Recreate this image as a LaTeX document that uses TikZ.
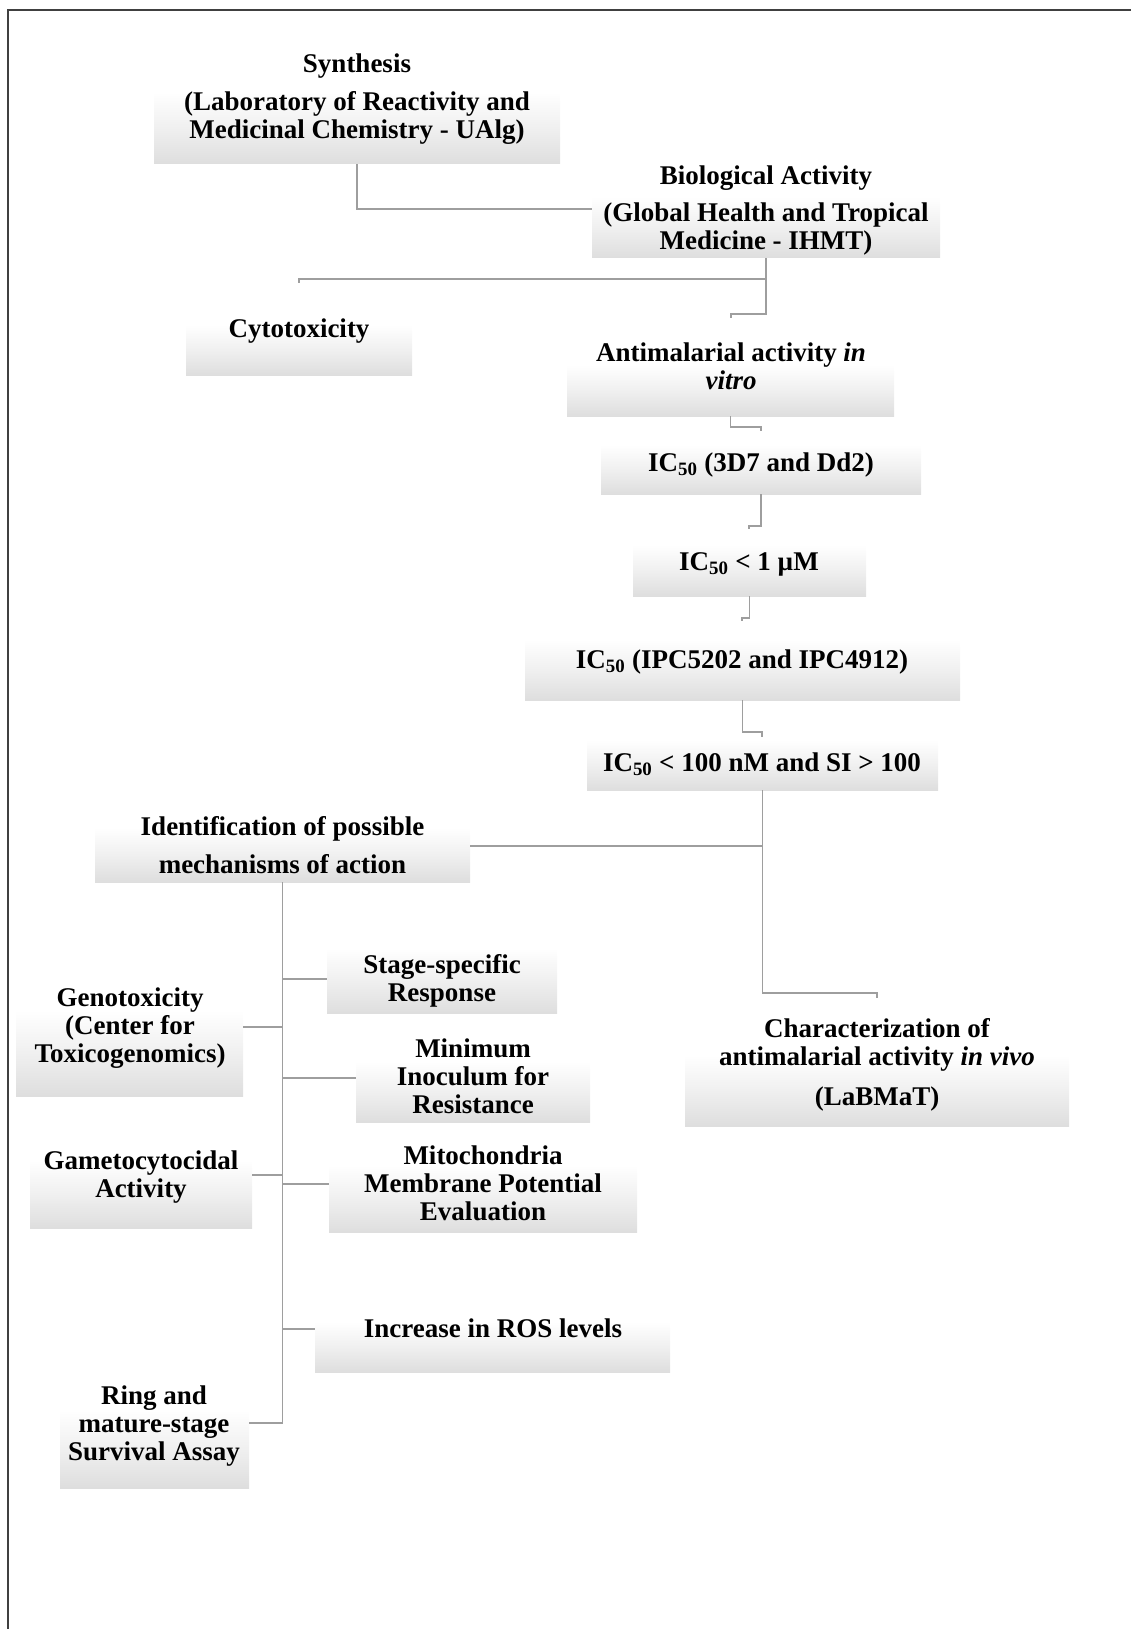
\documentclass[tikz,border=0pt]{standalone}
\usepackage{fontspec}
\setmainfont{Liberation Serif}
\begin{document}
\begin{tikzpicture}[x=1pt,y=-1pt,
  tbox/.style={rectangle, draw=none, inner sep=0pt, top color=white, bottom color=black!13, middle color=black!6},
  txt/.style={align=center, inner sep=0pt, font=\fontsize{27}{28}\selectfont\bfseries},
  conn/.style={draw=black!38, line width=1.5pt},
  frameline/.style={draw=black!75, line width=2.2pt}]
\useasboundingbox (0,0) rectangle (1131,1629);
\draw[frameline] (8,1640) -- (8,10) -- (1140,10);
% boxes
\node[tbox, minimum width=406pt, minimum height=72pt] (synbox) at (357,128) {};
\node[tbox, minimum width=348pt, minimum height=61pt] (biobox) at (766,227.5) {};
\node[tbox, minimum width=226pt, minimum height=50pt] (cytobox) at (299,350) {};
\node[tbox, minimum width=327pt, minimum height=51pt] (amtbox) at (730.5,390.5) {};
\node[tbox, minimum width=320pt, minimum height=49pt] (icabox) at (761,469.5) {};
\node[tbox, minimum width=233pt, minimum height=51pt] (icbbox) at (749.5,570.5) {};
\node[tbox, minimum width=435pt, minimum height=60pt] (iccbox) at (742.5,670) {};
\node[tbox, minimum width=351pt, minimum height=50pt] (icdbox) at (762.5,765) {};
\node[tbox, minimum width=375pt, minimum height=54pt] (idbox) at (282.5,855) {};
\node[tbox, minimum width=230pt, minimum height=65pt] (stagebox) at (442,980.5) {};
\node[tbox, minimum width=227pt, minimum height=86pt] (genobox) at (129.5,1053) {};
\node[tbox, minimum width=234pt, minimum height=60pt] (minbox) at (473,1092) {};
\node[tbox, minimum width=222pt, minimum height=68pt] (gambox) at (141,1194) {};
\node[tbox, minimum width=308pt, minimum height=67pt] (mitobox) at (483,1198.5) {};
\node[tbox, minimum width=355pt, minimum height=50pt] (rosbox) at (492.5,1347) {};
\node[tbox, minimum width=189pt, minimum height=78pt] (ringbox) at (154.5,1449) {};
\node[tbox, minimum width=384pt, minimum height=71pt] (vivobox) at (877,1090.5) {};
% free ends of elbow connectors
\coordinate (cytoin) at (299,283);
\coordinate (amtin) at (731,318);
\coordinate (icain) at (761,431);
\coordinate (icbin) at (749,529);
\coordinate (iccin) at (742,621);
\coordinate (icdin) at (762,737);
\coordinate (vivoin) at (877,998);
% connectors
\draw[conn] (synbox.south) |- (biobox.west |- 0,209);
\draw[conn] (biobox.south) -- (biobox.south |- 0,314) -| (amtin);
\draw[conn] (biobox.south |- 0,279) -| (cytoin);
\draw[conn] (amtbox.south) -- (amtbox.south |- 0,427) -| (icain);
\draw[conn] (icabox.south) -- (icabox.south |- 0,526) -| (icbin);
\draw[conn] (icbbox.south) -- (icbbox.south |- 0,618) -| (iccin);
\draw[conn] (iccbox.south) -- (iccbox.south |- 0,732) -| (icdin);
\draw[conn] (icdbox.south) -- (icdbox.south |- 0,993) -| (vivoin);
\draw[conn] (idbox.east |- 0,846) -- (icdbox.south |- 0,846);
\draw[conn] (idbox.south) |- (ringbox.east |- 0,1423);
\draw[conn] (idbox.south |- 0,979) -- (stagebox.west |- 0,979);
\draw[conn] (idbox.south |- 0,1027) -- (genobox.east |- 0,1027);
\draw[conn] (idbox.south |- 0,1078) -- (minbox.west |- 0,1078);
\draw[conn] (idbox.south |- 0,1175) -- (gambox.east |- 0,1175);
\draw[conn] (idbox.south |- 0,1184) -- (mitobox.west |- 0,1184);
\draw[conn] (idbox.south |- 0,1329) -- (rosbox.west |- 0,1329);
% texts
\node[txt] (syntxt) at (357,99) {Synthesis\\[10pt](Laboratory of Reactivity and\\Medicinal Chemistry - UAlg)};
\node[txt] (biotxt) at (766,211) {Biological Activity\\[9pt](Global Health and Tropical\\Medicine - IHMT)};
\node[txt] (cytotxt) at (299,331) {Cytotoxicity};
\node[txt] (amttxt) at (731,366) {Antimalarial activity \textit{in}\\\textit{vitro}};
\node[txt] (icatxt) at (761,465) {IC\textsubscript{50} (3D7 and Dd2)};
\node[txt] (icbtxt) at (749,564) {IC\textsubscript{50} < 1 µM};
\node[txt] (icctxt) at (742,662) {IC\textsubscript{50} (IPC5202 and IPC4912)};
\node[txt] (icdtxt) at (762,764) {IC\textsubscript{50} < 100 nM and SI > 100};
\node[txt] (idtxt) at (282.5,845) {Identification of possible\\[10pt]mechanisms of action};
\node[txt] (stagetxt) at (442,981) {Stage-specific\\Response};
\node[txt] (genotxt) at (130,1028) {Genotoxicity\\(Center for\\Toxicogenomics)};
\node[txt] (mintxt) at (473,1076.5) {Minimum\\Inoculum for\\Resistance};
\node[txt] (gamtxt) at (141,1177) {Gametocytocidal\\Activity};
\node[txt] (mitotxt) at (483,1183) {Mitochondria\\Membrane Potential\\Evaluation};
\node[txt] (rostxt) at (493,1328) {Increase in ROS levels};
\node[txt] (ringtxt) at (154,1426) {Ring and\\mature-stage\\Survival Assay};
\node[txt] (vivotxt) at (877,1065) {Characterization of\\antimalarial activity \textit{in vivo}\\[12pt](LaBMaT)};
\end{tikzpicture}
\end{document}
